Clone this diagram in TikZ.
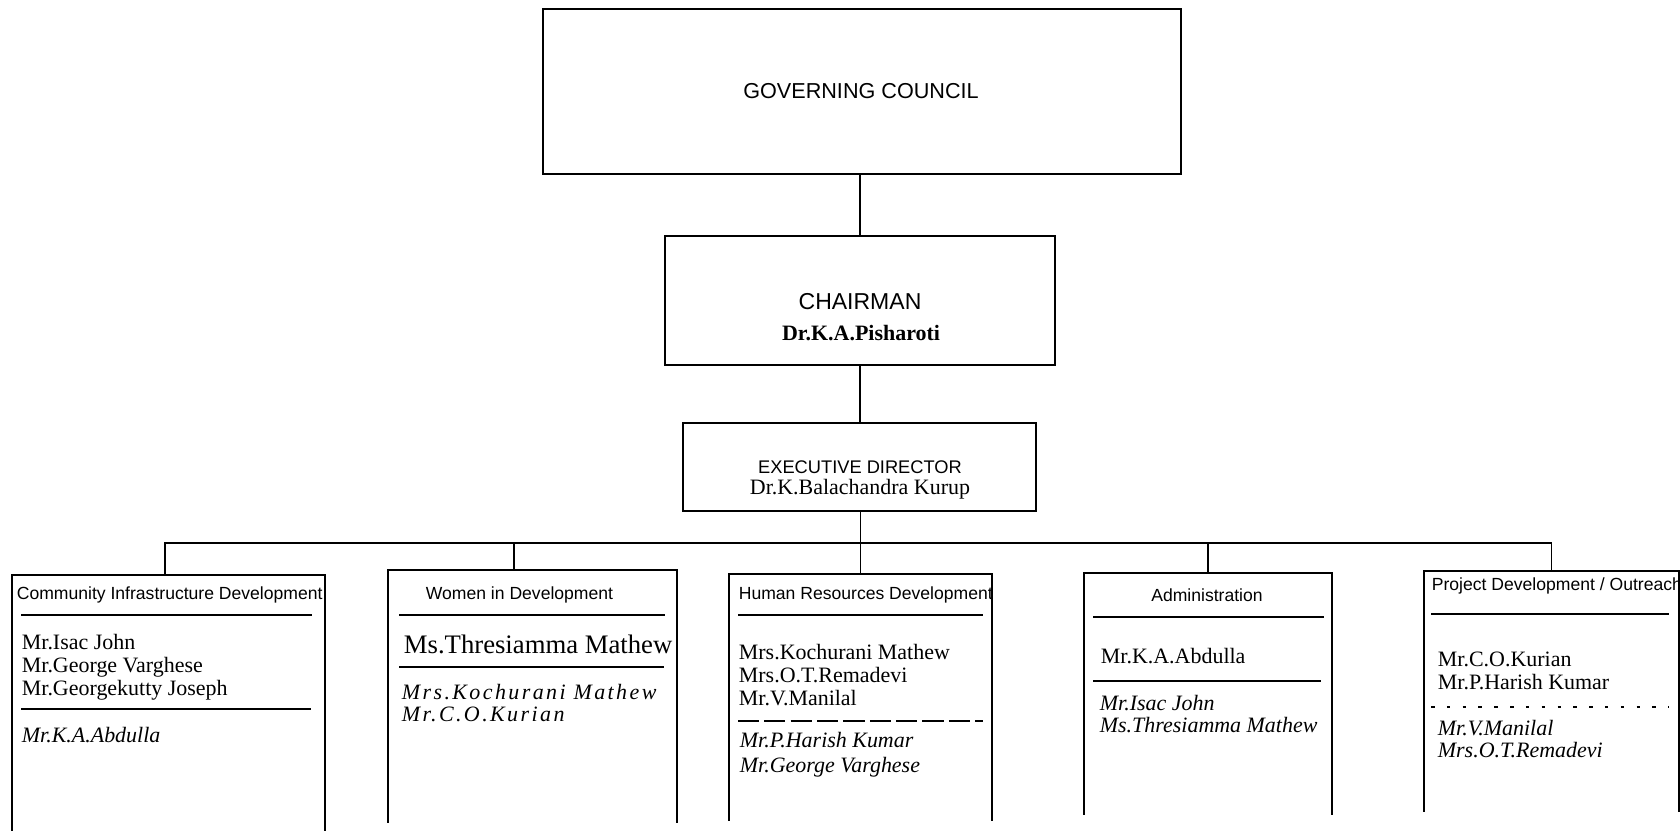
\documentclass[tikz,border=0pt]{standalone}
\usepackage{fontspec}
\setmainfont{Liberation Serif}
\setsansfont{Liberation Sans}
\begin{document}
\begin{tikzpicture}[x=0.02cm,y=-0.02cm,line width=1pt,
	box/.style={draw,inner sep=0pt},
	dept/.style={inner sep=0pt},
	head/.style={font=\sffamily\fontsize{10}{12}\selectfont,anchor=west,inner sep=0pt},
	names/.style={font=\fontsize{12.5}{13}\selectfont,align=left,anchor=west,inner sep=0pt},
	alts/.style={font=\itshape\fontsize{12.5}{13}\selectfont,align=left,anchor=west,inner sep=0pt},
	rule/.style={line width=0.9pt}]
	\useasboundingbox (0,0) rectangle (1680,836);

	% top of the chart
	\node[box,minimum width=12.76cm,minimum height=3.3cm] (gc) at (862,91.5) {};
	\node[font=\sffamily\fontsize{12.3}{14}\selectfont] (gctext) at (861,91) {GOVERNING COUNCIL};
	\node[box,minimum width=7.8cm,minimum height=2.58cm] (chair) at (860,300.5) {};
	\node[font=\sffamily\fontsize{13.1}{15}\selectfont] (chairtext) at (860,302) {CHAIRMAN};
	\node[font=\bfseries\fontsize{12.5}{14}\selectfont] (chairname) at (861,333) {Dr.K.A.Pisharoti};
	\node[box,minimum width=7.06cm,minimum height=1.76cm] (ed) at (859.5,467) {};
	\node[font=\sffamily\fontsize{10.4}{12}\selectfont] (edtext) at (860,467) {EXECUTIVE DIRECTOR};
	\node[font=\fontsize{12.5}{14}\selectfont] (edname) at (860,489) {Dr.K.Balachandra Kurup};
	\draw (chair.north |- gc.south) -- (chair.north);
	\draw (chair.south) -- (chair.south |- ed.north);

	% departments, open at the bottom
	\node[dept,minimum width=6.22cm,minimum height=5.08cm] (cid) at (168.5,703) {};
	\node[dept,minimum width=5.74cm,minimum height=5.02cm] (wid) at (532.5,696.5) {};
	\node[dept,minimum width=5.22cm,minimum height=4.9cm] (hrd) at (860.5,697.5) {};
	\node[dept,minimum width=4.92cm,minimum height=4.8cm] (adm) at (1208,694) {};
	\node[dept,minimum width=5.06cm,minimum height=4.78cm] (pdo) at (1551.5,691.5) {};
	\foreach \d in {cid,wid,hrd,adm,pdo}
		\draw (\d.south west) -- (\d.north west) -- (\d.north east) -- (\d.south east);

	\coordinate (bus) at (860,543);
	\coordinate (cidtap) at (165,543);
	\coordinate (widtap) at (514,543);
	\draw (hrd.north |- ed.south) -- (hrd.north);
	\draw (cidtap |- cid.north) -- (cidtap) -- (bus) -| (pdo.north);
	\draw (widtap) -- (widtap |- wid.north);
	\draw (adm.north |- bus) -- (adm.north);

	% Community Infrastructure Development
	\node[head] (cidhead) at (16,595) {Community Infrastructure Development};
	\draw[rule] (21,615) -- (312,615);
	\node[names] (cidnames) at (21,667) {Mr.Isac John\\Mr.George Varghese\\Mr.Georgekutty Joseph};
	\draw[rule] (21,709) -- (311,709);
	\node[alts] (cidalts) at (21,735) {Mr.K.A.Abdulla};

	% Women in Development
	\node[head] (widhead) at (425,595) {Women in Development};
	\draw[rule] (399,615) -- (665,615);
	\node[names,font=\fontsize{15.2}{17}\selectfont] (widnames) at (403,644) {Ms.Thresiamma Mathew};
	\draw[rule] (399,667) -- (664,667);
	\node[alts,font=\itshape\fontsize{12.5}{12.5}\selectfont\addfontfeature{LetterSpace=11}] (widalts) at (401,703) {Mrs.Kochurani Mathew\\Mr.C.O.Kurian};

	% Human Resources Development
	\node[head] (hrdhead) at (738,595) {Human Resources Development};
	\draw[rule] (738,615) -- (983,615);
	\node[names] (hrdnames) at (738,675) {Mrs.Kochurani Mathew\\Mrs.O.T.Remadevi\\Mr.V.Manilal};
	\draw[line width=0.8pt,dash pattern=on 12pt off 3pt] (738,721) -- (983,721);
	\node[alts,font=\itshape\fontsize{12.5}{14}\selectfont] (hrdalts) at (739,754.5) {Mr.P.Harish Kumar\\Mr.George Varghese};

	% Administration
	\node[head,anchor=center] (admhead) at (1207,595) {Administration};
	\draw[rule] (1093,617) -- (1324,617);
	\node[names] (admnames) at (1100,656) {Mr.K.A.Abdulla};
	\draw[rule] (1093,681) -- (1321,681);
	\node[alts] (admalts) at (1099,714) {Mr.Isac John\\Ms.Thresiamma Mathew};

	% Project Development / Outreach
	\node[head] (pdohead) at (1431,586) {Project Development / Outreach};
	\draw[rule] (1431,614) -- (1669,614);
	\node[names] (pdonames) at (1437,670.5) {Mr.C.O.Kurian\\Mr.P.Harish Kumar};
	\draw[rule,dash pattern=on 2pt off 7pt] (1431,707) -- (1669,707);
	\node[alts] (pdoalts) at (1437,739) {Mr.V.Manilal\\Mrs.O.T.Remadevi};
\end{tikzpicture}
\end{document}
